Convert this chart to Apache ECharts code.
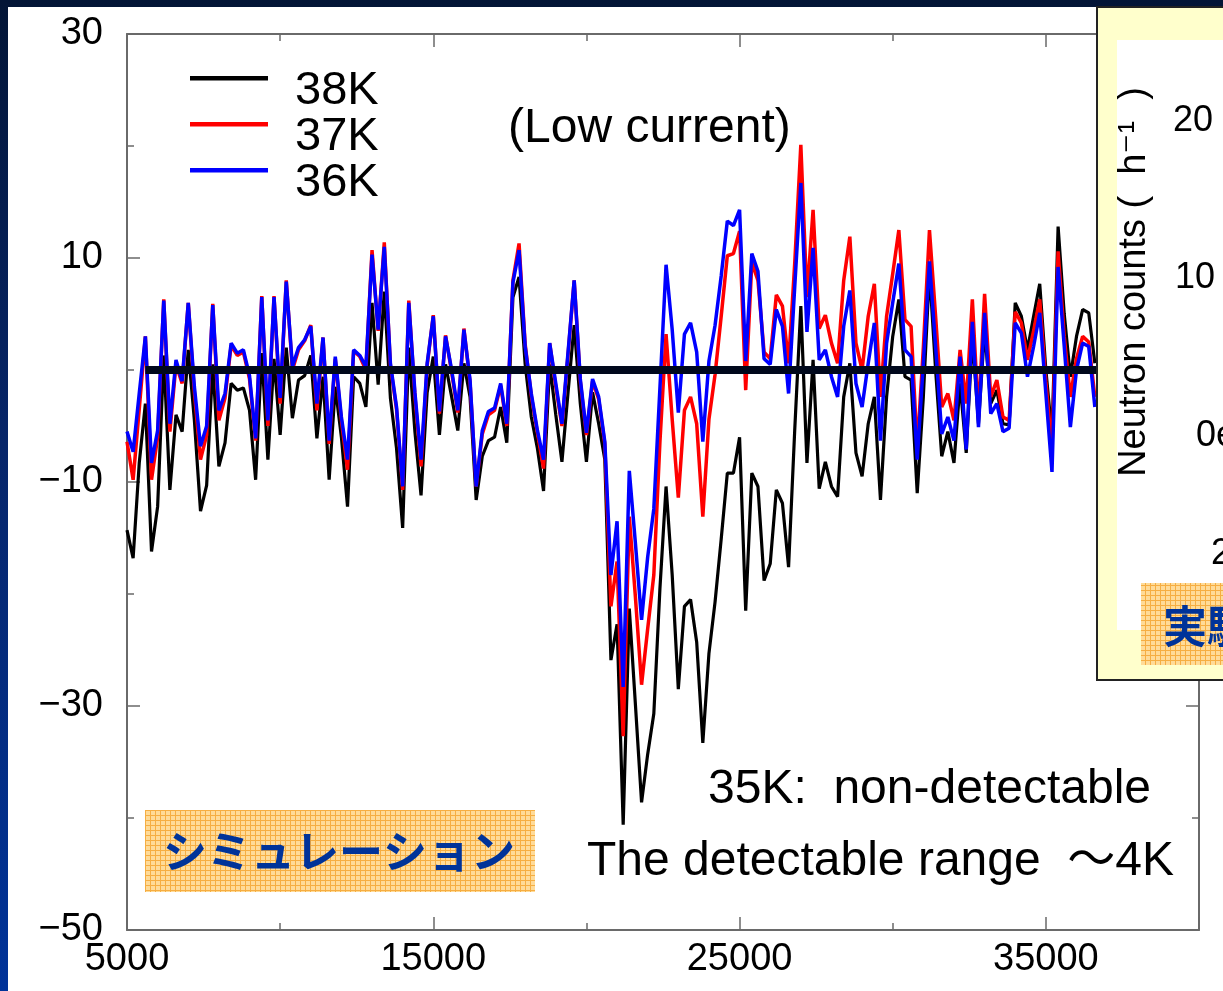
<!DOCTYPE html>
<html><head><meta charset="utf-8">
<script src="https://cdn.jsdelivr.net/npm/echarts@6/dist/echarts.min.js"></script>
<style>
html,body{margin:0;padding:0;width:1223px;height:991px;overflow:hidden;}
body{background:linear-gradient(to bottom,#031536 0%,#07266a 45%,#003399 100%);}
#panel{position:absolute;left:8px;top:7px;right:0;bottom:0;background:#fff;}
#chart{position:absolute;left:0;top:0;width:1223px;height:991px;}
</style></head><body><div id="panel"></div><div id="chart"></div>
<script>
const seriesNames = ['38K', '37K', '36K'];
const xTickLabels = [5000, 15000, 25000, 35000];
const yTickLabels = [-50, -30, -10, 10, 30];

const xValues = [
5000,5200,5400,5600,5800,6000,6200,6400,6600,6800,
7000,7200,7400,7600,7800,8000,8200,8400,8600,8800,
9000,9200,9400,9600,9800,10000,10200,10400,10600,10800,
11000,11200,11400,11600,11800,12000,12200,12400,12600,12800,
13000,13200,13400,13600,13800,14000,14200,14400,14600,14800,
15000,15200,15400,15600,15800,16000,16200,16400,16600,16800,
17000,17200,17400,17600,17800,18000,18200,18400,18600,18800,
19000,19200,19400,19600,19800,20000,20200,20400,20600,20800,
21000,21200,21400,21600,21800,22000,22200,22400,22600,22800,
23000,23200,23400,23600,23800,24000,24200,24400,24600,24800,
25000,25200,25400,25600,25800,26000,26200,26400,26600,26800,
27000,27200,27400,27600,27800,28000,28200,28400,28600,28800,
29000,29200,29400,29600,29800,30000,30200,30400,30600,30800,
31000,31200,31400,31600,31800,32000,32200,32400,32600,32800,
33000,33200,33400,33600,33800,34000,34200,34400,34600,34800,
35000,35200,35400,35600,35800,36000,36200,36400,36600
];

const k38 = [
-14.3,-16.8,-8.3,-3.0,-16.2,-12.2,1.3,-10.7,-4.0,-5.5,
1.8,-4.5,-12.6,-10.3,0.5,-8.6,-6.5,-1.2,-1.8,-1.6,
-3.6,-9.8,1.5,-8.0,1.0,-5.8,2.0,-4.3,-0.9,-0.5,
1.3,-6.1,-0.6,-9.8,-1.5,-6.0,-12.2,-0.6,-1.2,-3.3,
6.0,-1.3,7.0,-2.5,-7.0,-14.1,2.0,-5.5,-11.2,-2.0,
1.2,-5.8,0.5,-2.4,-5.4,0.6,-2.4,-11.6,-7.7,-6.3,
-6.0,-3.3,-6.5,6.5,8.3,0.5,-4.2,-7.0,-10.8,0.5,
-4.0,-8.2,-2.0,4.0,-3.0,-8.2,-2.0,-4.8,-8.0,-25.9,
-22.7,-40.6,-21.3,-29.9,-38.6,-34.3,-30.7,-19.5,-10.4,-18.3,
-28.5,-21.1,-20.5,-24.3,-33.3,-25.3,-20.7,-15.1,-9.2,-9.2,
-6.0,-21.5,-9.2,-10.4,-18.8,-17.3,-10.7,-11.9,-17.6,-5.4,
5.7,-8.3,0.9,-10.6,-8.2,-10.4,-11.3,-2.4,0.6,-7.4,
-9.5,-4.8,-2.4,-11.6,-2.4,3.0,6.3,-0.6,-0.9,-11.0,
-2.4,8.9,0.0,-7.7,-5.5,-8.3,-1.2,-7.4,3.0,-4.8,
3.6,-3.0,-1.8,-4.8,-4.9,6.0,4.8,1.8,4.8,7.7,
0.0,-5.8,12.8,5.0,-0.6,3.0,5.4,5.1,0.6
];

const k37 = [
-6.4,-9.8,-3.5,3.0,-9.8,-6.0,6.3,-5.5,0.5,-1.2,
6.0,-2.0,-8.0,-5.8,5.9,-4.5,-2.5,2.2,1.3,1.6,
-0.8,-6.3,6.6,-5.0,6.6,-3.0,8.0,0.0,1.8,2.6,
4.0,-3.6,2.9,-6.6,1.0,-4.5,-8.9,1.7,1.2,0.0,
10.7,3.5,11.4,0.4,-3.5,-10.7,6.2,-2.3,-8.6,0.4,
4.9,-3.9,3.1,-0.2,-3.8,3.7,-1.1,-10.4,-5.7,-4.0,
-3.6,-1.4,-5.0,8.0,11.3,2.3,-2.3,-5.6,-8.8,2.4,
-1.5,-5.0,1.4,8.0,-1.0,-5.8,-1.0,-2.6,-6.6,-21.1,
-17.1,-32.7,-13.1,-20.3,-28.1,-23.1,-18.3,-6.4,3.2,-4.4,
-11.4,-3.6,-2.4,-4.8,-13.1,-4.4,-0.4,4.8,10.2,10.4,
12.4,-1.8,9.6,8.0,1.6,1.0,6.7,5.7,0.6,9.5,
20.1,6.5,14.3,3.7,4.9,2.4,0.6,8.0,11.9,2.4,
0.0,4.8,7.7,-2.4,4.8,8.6,12.5,4.5,3.9,-7.1,
2.0,12.5,4.8,-3.3,-2.1,-4.5,1.8,-3.0,6.3,-4.2,
6.8,-2.4,-0.9,-4.2,-4.5,5.2,4.2,0.9,3.5,6.3,
-1.0,-7.1,10.6,3.0,-2.4,1.0,3.0,2.5,-2.4
];

const k36 = [
-5.5,-7.3,-2.1,3.0,-8.3,-5.4,6.2,-4.8,0.9,-1.0,
6.0,-1.5,-6.8,-5.0,5.8,-3.6,-2.1,2.4,1.5,1.8,
-0.5,-6.1,6.5,-4.5,6.5,-2.5,7.9,0.3,2.0,2.7,
3.9,-3.0,2.9,-6.3,1.2,-4.2,-8.0,1.8,1.3,0.3,
10.3,3.6,11.0,0.6,-3.3,-10.4,6.0,-2.0,-8.0,0.6,
4.8,-3.7,3.0,0.0,-3.6,3.6,-0.9,-10.4,-5.4,-3.7,
-3.4,-1.2,-4.8,7.8,10.7,2.1,-2.1,-5.4,-8.0,2.4,
-1.2,-4.8,1.6,8.0,-0.8,-5.6,-0.8,-2.4,-6.4,-18.3,
-13.5,-28.3,-9.0,-15.5,-22.3,-16.7,-12.4,-1.6,9.4,3.6,
-3.8,3.2,4.2,1.6,-6.4,0.8,4.0,8.4,13.3,12.9,
14.3,0.8,10.4,8.8,1.0,0.5,5.4,3.9,-2.1,7.4,
16.7,3.4,10.9,0.9,1.8,-0.6,-2.4,3.9,7.1,-1.2,
-3.3,0.6,4.2,-6.3,2.4,6.0,9.5,1.8,1.2,-8.0,
0.6,9.7,2.1,-5.7,-4.2,-6.3,1.2,-7.1,4.3,-5.1,
5.1,-3.9,-3.0,-5.5,-5.2,4.2,3.3,-0.6,2.1,5.1,
-2.1,-9.1,9.2,2.1,-5.1,0.0,2.4,2.1,-3.3
];

// reference (zero) level line
const zeroLineX = [5600, 40000];
const zeroLineY = [0, 0];

const FONT = '"Liberation Sans", Arial, Helvetica, sans-serif';
const FONT_W = '"Liberation Sans", "Noto Sans CJK JP", Arial, sans-serif';
const JP = '"Noto Sans CJK JP", "Noto Sans CJK SC", sans-serif';
const AX = '#6a6a6a';

function pairs(xs, ys) { return ys.map((v, i) => [xs[i], v]); }

// hatched orange fill like the slide labels
const pat = document.createElement('canvas');
pat.width = 5; pat.height = 5;
const pc = pat.getContext('2d');
pc.fillStyle = '#ffdb98'; pc.fillRect(0, 0, 5, 5);
pc.fillStyle = '#f6ae42'; pc.fillRect(0, 0, 5, 1); pc.fillRect(0, 0, 1, 5);
const hatch = { image: pat, repeat: 'repeat' };

const xCommon = { type: 'value', min: 5000, max: 40000, splitLine: { show: false } };
const yCommon = { type: 'value', min: -50, max: 30, interval: 20, splitLine: { show: false }, minorSplitLine: { show: false } };
const tickStyle = { color: AX, width: 1.5 };

const option = {
  animation: false,
  grid: { left: 127, right: 24, top: 34, bottom: 61, containLabel: false },
  legend: {
    data: seriesNames, orient: 'vertical', left: 190, top: 67.5, padding: 0,
    itemWidth: 78, itemHeight: 30, itemGap: -1, selectedMode: false,
    icon: 'path://M0,0L78,0L78,4.5L0,4.5Z M0,29.9L0.05,29.9L0.05,30Z',
    textStyle: { fontSize: 47, lineHeight: 47, fontFamily: FONT, color: '#000', padding: [0, 0, 0, 22] }
  },
  xAxis: [
    Object.assign({}, xCommon, { position: 'bottom', interval: 5000,
      axisLine: { show: true, onZero: false, lineStyle: { color: AX, width: 2 } },
      axisTick: { show: true, inside: true, length: 7, lineStyle: tickStyle },
      axisLabel: { show: false } }),
    Object.assign({}, xCommon, { position: 'bottom', interval: 10000,
      axisLine: { show: false, onZero: false },
      axisTick: { show: true, inside: true, length: 13, lineStyle: tickStyle },
      axisLabel: { show: true, fontSize: 38, fontFamily: FONT, color: '#000', margin: 11,
        formatter: v => xTickLabels.indexOf(v) >= 0 ? String(v) : '' } }),
    Object.assign({}, xCommon, { position: 'top', interval: 5000,
      axisLine: { show: true, onZero: false, lineStyle: { color: AX, width: 2 } },
      axisTick: { show: true, inside: true, length: 7, lineStyle: tickStyle },
      axisLabel: { show: false } }),
    Object.assign({}, xCommon, { position: 'top', interval: 10000,
      axisLine: { show: false, onZero: false },
      axisTick: { show: true, inside: true, length: 13, lineStyle: tickStyle },
      axisLabel: { show: false } })
  ],
  yAxis: [
    Object.assign({}, yCommon, { position: 'left',
      axisLine: { show: true, onZero: false, lineStyle: { color: AX, width: 2 } },
      axisTick: { show: true, inside: true, length: 13, lineStyle: tickStyle },
      minorTick: { show: true, splitNumber: 2, length: 7, lineStyle: tickStyle },
      axisLabel: { show: true, fontSize: 38, fontFamily: FONT, color: '#000', margin: 24,
        formatter: v => yTickLabels.indexOf(v) >= 0 ? (v < 0 ? '\u2212' + Math.abs(v) : String(v)) : '' } }),
    Object.assign({}, yCommon, { position: 'right',
      axisLine: { show: true, onZero: false, lineStyle: { color: AX, width: 2 } },
      axisTick: { show: true, inside: true, length: 13, lineStyle: tickStyle },
      minorTick: { show: true, splitNumber: 2, length: 7, lineStyle: tickStyle },
      axisLabel: { show: false } })
  ],
  series: [
    { name: '38K', type: 'line', data: pairs(xValues, k38), symbol: 'none', showSymbol: false, z: 2,
      color: '#000000', lineStyle: { width: 3.2, color: '#000000' } },
    { name: '37K', type: 'line', data: pairs(xValues, k37), symbol: 'none', showSymbol: false, z: 3,
      color: '#ff0000', lineStyle: { width: 3.5, color: '#ff0000' } },
    { name: '36K', type: 'line', data: pairs(xValues, k36), symbol: 'none', showSymbol: false, z: 4,
      color: '#0000ff', lineStyle: { width: 3.5, color: '#0000ff' } },
    { name: 'zero', type: 'line', data: pairs(zeroLineX, zeroLineY), symbol: 'none', showSymbol: false, z: 5,
      silent: true, color: '#00081c', lineStyle: { width: 8, color: '#00081c' } }
  ],
  graphic: { elements: [
    { type: 'text', x: 508, y: 129, z: 20, style: { text: '(Low current)', fontSize: 48, fontFamily: FONT, fill: '#000', align: 'left', verticalAlign: 'middle' } },
    { type: 'text', x: 708, y: 790, z: 20, style: { text: '35K:  non-detectable', fontSize: 48, fontFamily: FONT, fill: '#000', align: 'left', verticalAlign: 'middle' } },
    { type: 'text', x: 587, y: 862, z: 20, style: { text: 'The detectable range \u00A0\uFF5E4K', fontSize: 48, fontFamily: FONT_W, fill: '#000', align: 'left', verticalAlign: 'middle' } },
    { type: 'rect', z: 20, shape: { x: 145, y: 810, width: 390, height: 82 }, style: { fill: hatch } },
    { type: 'text', x: 339, y: 851, z: 21, style: { text: 'シミュレーション', fontSize: 44, fontWeight: 'bold', fontFamily: JP, fill: '#003399', align: 'center', verticalAlign: 'middle' } },
    // inset panel (partially visible)
    { type: 'rect', z: 100, shape: { x: 1097, y: 7, width: 140, height: 673 }, style: { fill: '#ffffcc', stroke: '#222', lineWidth: 2 } },
    { type: 'rect', z: 101, shape: { x: 1117, y: 40, width: 120, height: 590 }, style: { fill: '#ffffff' } },
    { type: 'text', x: 1135, y: 282, z: 102, rotation: Math.PI / 2, style: { text: 'Neutron counts (  h\u207B\u00B9  )', fontSize: 38, fontFamily: FONT + ', "DejaVu Sans"', fill: '#000', align: 'center', verticalAlign: 'middle' } },
    { type: 'text', x: 1173, y: 121, z: 102, style: { text: '20', fontSize: 36, fontFamily: FONT, fill: '#000', align: 'left', verticalAlign: 'middle' } },
    { type: 'text', x: 1175, y: 278, z: 102, style: { text: '10', fontSize: 36, fontFamily: FONT, fill: '#000', align: 'left', verticalAlign: 'middle' } },
    { type: 'text', x: 1196, y: 436, z: 102, style: { text: '0e', fontSize: 36, fontFamily: FONT, fill: '#000', align: 'left', verticalAlign: 'middle' } },
    { type: 'text', x: 1211, y: 554, z: 102, style: { text: '2', fontSize: 36, fontFamily: FONT, fill: '#000', align: 'left', verticalAlign: 'middle' } },
    { type: 'rect', z: 103, shape: { x: 1141, y: 583, width: 100, height: 82 }, style: { fill: hatch } },
    { type: 'text', x: 1163, y: 626, z: 104, style: { text: '実験', fontSize: 44, fontWeight: 'bold', fontFamily: JP, fill: '#003399', align: 'left', verticalAlign: 'middle' } }
  ] }
};

const chart = echarts.init(document.getElementById('chart'), null, { renderer: 'canvas' });
chart.setOption(option);
</script></body></html>
